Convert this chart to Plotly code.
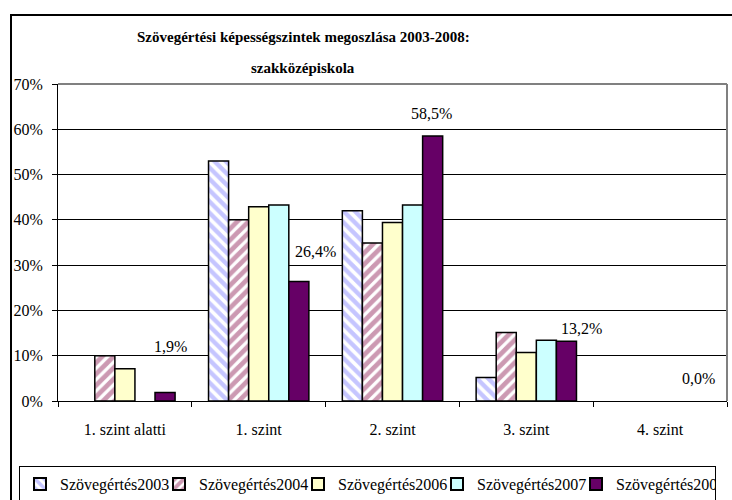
import plotly.graph_objects as go

# ---- data ----
categories = ["1. szint alatti", "1. szint", "2. szint", "3. szint", "4. szint"]
series_names = ["Szövegértés2003", "Szövegértés2004", "Szövegértés2006",
                "Szövegértés2007", "Szövegértés2008"]
s2003 = [0.0, 0.530, 0.420, 0.052, 0.0]
s2004 = [0.100, 0.400, 0.349, 0.151, 0.0]
s2006 = [0.071, 0.429, 0.394, 0.107, 0.0]
s2007 = [0.0, 0.433, 0.433, 0.134, 0.0]
s2008 = [0.019, 0.264, 0.585, 0.132, 0.0]
y_ticks = [0, 0.1, 0.2, 0.3, 0.4, 0.5, 0.6, 0.7]

# ---- styling / layout constants ----
W, H = 732, 500
ML, MR, MT, MB = 58, 5, 84, 99
PW, PH = W - ML - MR, H - MT - MB
FONT = "Liberation Serif"

styles = [
    dict(color="white", pattern=dict(shape="\\", fgcolor="#8C8CFF", bgcolor="white",
                                     size=8, solidity=0.55, fillmode="overlay")),
    dict(color="white", pattern=dict(shape="/", fgcolor="#993366", bgcolor="white",
                                     size=8, solidity=0.6, fillmode="overlay")),
    dict(color="#FFFFCC"),
    dict(color="#CCFFFF"),
    dict(color="#660066"),
]

fig = go.Figure()
for name, vals, st in zip(series_names, [s2003, s2004, s2006, s2007, s2008], styles):
    marker = dict(st)
    marker["line"] = dict(color="black", width=[1.5 if v > 0 else 0 for v in vals])
    fig.add_trace(go.Bar(x=categories, y=vals, name=name, marker=marker))

# data labels for the 2008 series (manual nudges in px, as in the original)
label_nudge = [(5, 46), (17, 30), (-1, 23), (15, 13), (-2, 23)]
cat_px = PW / len(categories)
bargap = 0.25
bar_w = (1 - bargap) / 5
offset_px = 2 * bar_w * cat_px
for cat, v, (dx, dy) in zip(categories, s2008, label_nudge):
    fig.add_annotation(x=cat, y=v, xref="x", yref="y",
                       text=f"{v*100:.1f}%".replace(".", ","),
                       showarrow=False, xshift=offset_px + dx, yshift=dy,
                       font=dict(family=FONT, size=16, color="black"))

# title (two lines)
title_lines = ["Szövegértési képességszintek megoszlása 2003-2008:", "szakközépiskola"]
title_cx = (303 - ML) / PW
for line, ypx in zip(title_lines, [37, 68]):
    fig.add_annotation(x=title_cx, y=(H - MB - ypx) / PH, xref="paper", yref="paper",
                       text=f"<b>{line}</b>", showarrow=False,
                       xanchor="center", yanchor="middle",
                       font=dict(family=FONT, size=15, color="black"))

# outer chart frame
fig.add_shape(type="rect", xref="paper", yref="paper",
              x0=(11 - ML) / PW, x1=1.2, y0=-0.6, y1=(H - MB - 15) / PH,
              line=dict(color="black", width=2), fillcolor="rgba(0,0,0,0)", layer="below")
# grey plot-area border (top and right)
fig.add_shape(type="line", xref="paper", yref="paper", x0=0, x1=1, y0=1, y1=1,
              line=dict(color="#808080", width=2))
fig.add_shape(type="line", xref="paper", yref="paper", x0=1, x1=1, y0=0, y1=1,
              line=dict(color="#808080", width=2))

fig.update_layout(
    width=W, height=H,
    margin=dict(l=ML, r=MR, t=MT, b=MB, pad=0, autoexpand=False),
    paper_bgcolor="white", plot_bgcolor="white",
    barmode="group", bargap=bargap, bargroupgap=0,
    font=dict(family=FONT, size=16, color="black"),
    showlegend=True,
    legend=dict(orientation="h", x=(19 - ML) / PW, xanchor="left",
                y=(H - MB - 466) / PH, yanchor="top",
                bordercolor="black", borderwidth=1, bgcolor="white",
                entrywidth=94, entrywidthmode="pixels",
                font=dict(family=FONT, size=16, color="black"),
                tracegroupgap=0, itemsizing="constant"),
)
fig.update_xaxes(type="category", showline=True, linecolor="black", linewidth=1,
                 ticks="outside", tickson="boundaries", ticklen=5, tickcolor="black",
                 showgrid=False, ticklabelstandoff=14,
                 tickfont=dict(family=FONT, size=16, color="black"))
fig.update_yaxes(range=[0, 0.7], tickvals=y_ticks, tickformat=".0%",
                 showline=True, linecolor="black", linewidth=1,
                 ticks="outside", ticklen=5, tickcolor="black",
                 showgrid=True, gridcolor="black", gridwidth=1, zeroline=False,
                 ticklabelstandoff=6,
                 tickfont=dict(family=FONT, size=16, color="black"))

fig.write_html("out.html", config={"displayModeBar": False},
               post_script="document.body.style.margin='0';")
